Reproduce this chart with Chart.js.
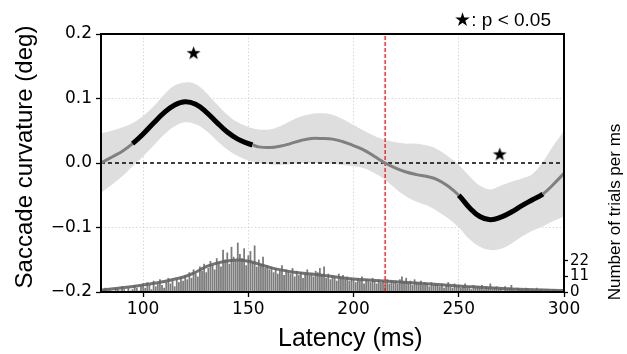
<!DOCTYPE html>
<html>
<head>
<meta charset="utf-8">
<script src="https://cdn.jsdelivr.net/npm/chart.js@4"></script>
<style>
  body { margin: 0; background: #fff; }
  canvas { display: block; }
</style>
</head>
<body>
<canvas id="js--chart" width="627" height="354"></canvas>
<script>
// latency points (ms) for the curve and its band
const latency = [80, 85, 90, 95, 100, 105, 110, 115, 120, 125, 130, 135, 140, 145, 150, 152,
  155, 160, 165, 170, 175, 180, 185, 190, 195, 200, 205, 210, 215, 220, 225, 230, 235, 240,
  245, 250, 255, 260, 265, 270, 275, 280, 285, 290, 295, 300];

const curvature = [0.000, 0.009, 0.018, 0.030, 0.045, 0.062, 0.078, 0.090, 0.095, 0.091, 0.079,
  0.063, 0.048, 0.037, 0.030, 0.028, 0.025, 0.024, 0.026, 0.030, 0.035, 0.038, 0.038, 0.037,
  0.033, 0.027, 0.020, 0.010, 0.000, -0.008, -0.014, -0.018, -0.021, -0.026, -0.036, -0.050,
  -0.069, -0.083, -0.088, -0.084, -0.076, -0.066, -0.057, -0.048, -0.033, -0.016];

const upperBand = [0.046, 0.050, 0.055, 0.062, 0.073, 0.088, 0.106, 0.120, 0.125, 0.122, 0.109,
  0.091, 0.075, 0.063, 0.056, 0.054, 0.052, 0.052, 0.057, 0.065, 0.072, 0.076, 0.077, 0.075,
  0.068, 0.059, 0.050, 0.042, 0.036, 0.032, 0.030, 0.030, 0.027, 0.021, 0.010, -0.003,
  -0.020, -0.035, -0.041, -0.035, -0.029, -0.024, -0.017, 0.002, 0.027, 0.050];

const lowerBand = [-0.046, -0.034, -0.021, -0.005, 0.010, 0.027, 0.044, 0.057, 0.063, 0.060, 0.050,
  0.035, 0.021, 0.011, 0.004, 0.002, 0.000, -0.002, -0.003, -0.002, 0.000, 0.000, 0.000, -0.001,
  -0.003, -0.005, -0.008, -0.016, -0.026, -0.040, -0.052, -0.060, -0.066, -0.075, -0.086, -0.100,
  -0.118, -0.130, -0.135, -0.133, -0.125, -0.114, -0.105, -0.098, -0.090, -0.083];

// significant stretches (p < 0.05)
const sigRanges = [[95, 152], [250, 290]];
const starX = [124, 269.5];
const starY = [0.171, 0.014];

const cutoff = 215;

// histogram, 1 ms bins from 80 to 300
const histStart = 80;
const histCounts = [
  2, 1, 3, 0, 2, 1, 0, 3, 2, 1, 4, 2, 0, 3, 1, 2, 5, 3, 1, 4,
  6, 3, 7, 5, 2, 8, 4, 6, 9, 5, 3, 7, 10, 6, 8, 4, 9, 7, 11, 8,
  12, 9, 14, 10, 16, 13, 11, 18, 15, 20, 14, 17, 22, 19, 16, 24, 21, 18, 30, 23,
  28, 20, 32, 25, 22, 35, 27, 24, 31, 19, 26, 29, 21, 33, 18, 23, 20, 25, 17, 19,
  16, 18, 14, 17, 13, 15, 19, 12, 16, 14, 13, 17, 11, 15, 12, 14, 10, 13, 16, 12,
  13, 11, 15, 14, 17, 12, 18, 10, 13, 9, 12, 11, 8, 13, 10, 12, 9, 11, 8, 10,
  9, 7, 10, 8, 11, 6, 9, 8, 7, 10, 8, 6, 9, 7, 8, 5, 9, 6, 8, 7,
  8, 6, 9, 11, 7, 10, 6, 8, 5, 9, 7, 6, 8, 5, 7, 6, 4, 7, 5, 6,
  5, 4, 6, 3, 5, 7, 4, 3, 6, 4, 5, 3, 4, 6, 3, 4, 2, 5, 3, 4,
  3, 5, 2, 4, 3, 6, 2, 3, 4, 2, 3, 1, 4, 2, 3, 5, 2, 1, 3, 2,
  2, 1, 3, 2, 0, 2, 1, 3, 1, 2, 0, 1, 2, 1, 0, 2, 1, 1, 0, 1, 1
];

// smoothed trial density
const densX = [80, 90, 100, 110, 120, 125, 130, 135, 140, 145, 150, 155, 160, 170, 180, 190, 200, 220, 250, 275, 300];
const densY = [1.4, 3, 5, 7.5, 11, 14, 18, 20.5, 22, 22.7, 21.8, 19.8, 17.5, 14.4, 12.8, 11, 9.2, 7.3, 4.3, 2.1, 1];

const xTicks = [100, 150, 200, 250, 300];
const yTicks = [-0.2, -0.1, 0, 0.1, 0.2];
const countTicks = [0, 11, 22];

const pts = (xsArr, ysArr) => xsArr.map((x, i) => ({ x: x, y: ysArr[i] }));

const isSig = (ctx) => sigRanges.some(r => ctx.p0.parsed.x >= r[0] && ctx.p1.parsed.x <= r[1]);

// filled star marker
const starImg = (function () {
  const c = document.createElement("canvas");
  c.width = 15;
  c.height = 15;
  const g = c.getContext("2d");
  g.fillStyle = "#000";
  g.beginPath();
  for (let i = 0; i < 10; i++) {
    const r = i % 2 === 0 ? 7.3 : 2.9;
    const a = -Math.PI / 2 + i * Math.PI / 5;
    const px = 7.5 + r * Math.cos(a);
    const py = 8.2 + r * Math.sin(a);
    if (i === 0) g.moveTo(px, py); else g.lineTo(px, py);
  }
  g.closePath();
  g.fill();
  return c;
})();

const textPlugin = {
  id: "texts",
  afterDraw(chart) {
    const ctx = chart.ctx;
    const a = chart.chartArea;
    const w = a.right - a.left;
    const h = a.bottom - a.top;
    ctx.save();
    // axes frame
    ctx.fillStyle = "#000";
    ctx.fillRect(a.left - 1, a.top - 1, w + 2, 2);
    ctx.fillRect(a.left - 1, a.bottom - 1, w + 2, 2);
    ctx.fillRect(a.left - 1, a.top - 1, 2, h + 2);
    ctx.fillRect(a.right - 1, a.top - 1, 2, h + 2);

    ctx.font = '19px "Liberation Sans"';
    ctx.textAlign = "right";
    ctx.textBaseline = "alphabetic";
    ctx.fillText("\u2605: p < 0.05", 551, 26);

    ctx.font = '25px "Liberation Sans"';
    ctx.textAlign = "left";
    ctx.fillText("Latency (ms)", 278, 346);

    ctx.save();
    ctx.translate(25, 157);
    ctx.rotate(-Math.PI / 2);
    ctx.font = '24px "Liberation Sans"';
    ctx.textAlign = "center";
    ctx.textBaseline = "middle";
    ctx.fillText("Saccade curvature (deg)", 0, 0);
    ctx.restore();

    ctx.save();
    ctx.translate(615, 212);
    ctx.rotate(-Math.PI / 2);
    ctx.font = '17px "Liberation Sans"';
    ctx.textAlign = "center";
    ctx.textBaseline = "middle";
    ctx.fillText("Number of trials per ms", 0, 0);
    ctx.restore();
    ctx.restore();
  }
};

const tickFont = { family: "DejaVu Sans", size: 17 };

new Chart(document.getElementById("js--chart"), {
  type: "line",
  data: {
    datasets: [
      {
        data: pts(starX, starY),
        showLine: false,
        pointStyle: starImg,
        pointRadius: 7,
        order: 0
      },
      {
        data: pts(latency, curvature),
        borderColor: "#808080",
        borderWidth: 3,
        tension: 0.4,
        pointRadius: 0,
        segment: {
          borderColor: ctx => isSig(ctx) ? "#000" : "#808080",
          borderWidth: ctx => isSig(ctx) ? 5 : 3
        },
        order: 1
      },
      {
        data: [{ x: 80, y: 0 }, { x: 300, y: 0 }],
        borderColor: "#000",
        borderWidth: 1.3,
        borderDash: [4, 3],
        pointRadius: 0,
        order: 2
      },
      {
        data: [{ x: cutoff, y: -0.2 }, { x: cutoff, y: 0.2 }],
        borderColor: "#ff0000",
        borderWidth: 1.2,
        borderDash: [4, 2],
        pointRadius: 0,
        order: 3
      },
      {
        data: pts(densX, densY),
        yAxisID: "y2",
        borderColor: "rgba(100,100,100,0.9)",
        borderWidth: 3,
        tension: 0.4,
        pointRadius: 0,
        order: 4
      },
      {
        type: "bar",
        data: histCounts.map((c, i) => ({ x: histStart + i, y: c })),
        yAxisID: "y2",
        backgroundColor: "#7c7c7c",
        barPercentage: 0.85,
        categoryPercentage: 1,
        order: 5
      },
      {
        data: pts(latency, upperBand),
        borderWidth: 0,
        pointRadius: 0,
        tension: 0.4,
        fill: "+1",
        backgroundColor: "#dedede",
        order: 6
      },
      {
        data: pts(latency, lowerBand),
        borderWidth: 0,
        pointRadius: 0,
        tension: 0.4,
        order: 7
      }
    ]
  },
  options: {
    responsive: false,
    animation: false,
    devicePixelRatio: 1,
    layout: { padding: { top: 34, left: 0, right: 0, bottom: 0 } },
    plugins: { legend: { display: false }, tooltip: { enabled: false } },
    scales: {
      x: {
        type: "linear",
        offset: false,
        min: 80,
        max: 300,
        afterBuildTicks: s => { s.ticks = xTicks.map(v => ({ value: v })); },
        afterFit: s => { s.height = 62; },
        ticks: { font: tickFont, color: "#000", padding: 2, maxRotation: 0 },
        grid: {
          offset: false,
          color: ctx => (ctx.tick && ctx.tick.value < 300) ? "#cfcfcf" : "transparent",
          lineWidth: 0.8,
          tickColor: "#000",
          tickLength: 5,
          tickWidth: 1.3
        },
        border: { display: false, dash: [1.5, 2] }
      },
      y: {
        position: "left",
        min: -0.2,
        max: 0.2,
        afterBuildTicks: s => { s.ticks = yTicks.map(v => ({ value: v })); },
        afterFit: s => { s.width = 101; },
        ticks: {
          font: tickFont,
          color: "#000",
          padding: 4,
          callback: v => Math.abs(v) < 1e-9 ? "0.0" : (v < 0 ? "\u2212" : "") + Math.abs(v).toFixed(1)
        },
        grid: {
          color: ctx => (ctx.tick && Math.abs(Math.abs(ctx.tick.value) - 0.1) < 1e-6) ? "#cfcfcf" : "transparent",
          lineWidth: 0.8,
          tickColor: "#000",
          tickLength: 5,
          tickWidth: 1.3
        },
        border: { display: false, dash: [1.5, 2] }
      },
      y2: {
        position: "right",
        min: 0,
        max: 183,
        afterBuildTicks: s => { s.ticks = countTicks.map(v => ({ value: v })); },
        afterFit: s => { s.width = 63; },
        ticks: { font: { family: "DejaVu Sans", size: 15 }, color: "#000", padding: 2 },
        grid: {
          drawOnChartArea: false,
          tickColor: "#000",
          tickLength: 4,
          tickWidth: 1.3
        },
        border: { display: false }
      }
    }
  },
  plugins: [textPlugin]
});
</script>
</body>
</html>
